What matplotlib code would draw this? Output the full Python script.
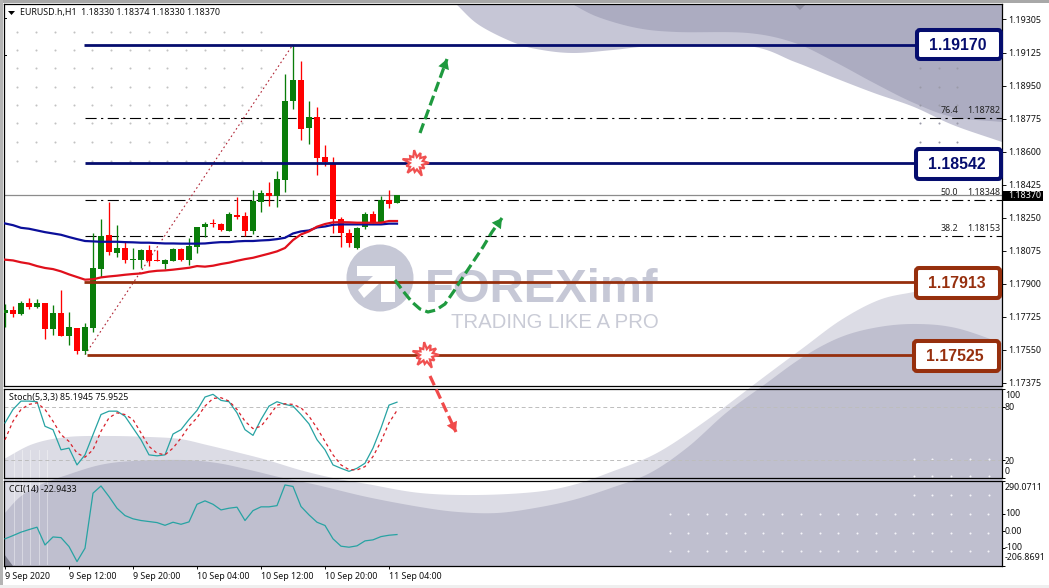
import matplotlib
matplotlib.use("Agg")
import matplotlib.pyplot as plt
from matplotlib.patches import FancyBboxPatch, Polygon, Circle, Rectangle
import numpy as np

# ---------- data ----------
opens = [1.17744,1.17762,1.17741,1.17797,1.17778,1.17797,1.17663,1.17744,1.17626,1.17667,
         1.17546,1.17667,1.17981,1.18158,1.18064,1.18091,1.18029,1.18027,1.18080,1.18027,
         1.18006,1.18023,1.18085,1.18027,1.18098,1.18204,1.18221,1.18218,1.18182,1.18265,
         1.18260,1.18181,1.18336,1.18382,1.18368,1.18453,1.18871,1.18981,1.18727,1.18783,
         1.18573,1.18539,1.18244,1.18168,1.18091,1.18200,1.18271,1.18228,1.18343,1.18330]
highs = [1.17794,1.17783,1.17808,1.17824,1.17819,1.17801,1.17787,1.17868,1.17751,1.17667,
         1.17691,1.18168,1.18243,1.18334,1.18211,1.18122,1.18089,1.18084,1.18106,1.18080,
         1.18031,1.18089,1.18091,1.18142,1.18204,1.18230,1.18243,1.18225,1.18283,1.18359,
         1.18283,1.18398,1.18398,1.18439,1.18499,1.19016,1.19170,1.19082,1.18870,1.18836,
         1.18636,1.18575,1.18257,1.18191,1.18204,1.18280,1.18287,1.18368,1.18398,1.18374]
lows = [1.17670,1.17723,1.17735,1.17766,1.17773,1.17607,1.17628,1.17624,1.17578,1.17529,
        1.17529,1.17645,1.17939,1.18055,1.18041,1.18013,1.17981,1.17985,1.17995,1.18020,
        1.17981,1.18020,1.18023,1.18001,1.18066,1.18151,1.18200,1.18182,1.18182,1.18246,
        1.18154,1.18165,1.18283,1.18313,1.18306,1.18389,1.18829,1.18663,1.18645,1.18476,
        1.18527,1.18172,1.18098,1.18098,1.18084,1.18190,1.18221,1.18221,1.18303,1.18330]
closes = [1.17762,1.17741,1.17797,1.17776,1.17797,1.17663,1.17744,1.17626,1.17670,1.17546,
          1.17670,1.17985,1.18154,1.18069,1.18091,1.18027,1.18032,1.18080,1.18023,1.18023,
          1.18027,1.18085,1.18027,1.18101,1.18200,1.18218,1.18218,1.18186,1.18271,1.18255,
          1.18181,1.18340,1.18380,1.18368,1.18456,1.18870,1.18981,1.18723,1.18783,1.18569,
          1.18546,1.18246,1.18168,1.18119,1.18197,1.18271,1.18225,1.18345,1.18326,1.18370]
ma_blue = [1.18221,1.18212,1.18198,1.18193,1.18184,1.18175,1.18168,1.18161,1.18149,1.18138,
           1.18128,1.18126,1.18124,1.18124,1.18124,1.18122,1.18121,1.18119,1.18119,1.18117,
           1.18115,1.18115,1.18114,1.18114,1.18114,1.18115,1.18119,1.18122,1.18122,1.18126,
           1.18128,1.18128,1.18131,1.18133,1.18138,1.18145,1.18168,1.18179,1.18184,1.18200,
           1.18205,1.18214,1.18216,1.18216,1.18216,1.18216,1.18216,1.18216,1.18220,1.18220]
ma_red = [1.18029,1.18025,1.18015,1.18008,1.17995,1.17985,1.17979,1.17967,1.17951,1.17937,
          1.17923,1.17925,1.17935,1.17940,1.17944,1.17949,1.17953,1.17956,1.17965,1.17970,
          1.17972,1.17976,1.17981,1.17986,1.17995,1.17992,1.17997,1.18006,1.18013,1.18023,
          1.18032,1.18039,1.18050,1.18061,1.18073,1.18091,1.18133,1.18163,1.18179,1.18204,
          1.18218,1.18227,1.18228,1.18227,1.18225,1.18225,1.18225,1.18225,1.18234,1.18234]
stoch_main = [61.9,77.0,86.4,86.4,85.7,58.1,54.3,31.7,33.6,14.7,26.0,48.7,71.3,75.1,75.1,69.4,56.2,43.0,26.0,24.9,
              26.0,49.4,54.3,65.7,75.9,91.0,94.0,87.2,85.7,73.2,54.3,47.9,65.7,80.8,85.7,82.7,80.8,71.3,60.8,43.0,
              31.7,14.7,10.9,7.5,10.9,16.6,33.6,56.2,81.9,85.19]
stoch_signal = [43.0,63.8,77.0,82.7,84.5,77.0,63.8,48.7,41.1,27.9,23.4,31.7,52.5,67.6,73.2,71.3,65.7,50.6,35.5,27.9,
                26.0,33.6,44.9,58.1,67.6,80.8,89.4,90.2,86.4,77.0,63.8,55.5,58.1,69.4,81.9,83.4,82.7,78.9,69.4,56.2,
                41.1,26.0,14.7,9.4,9.0,12.8,24.1,41.1,61.9,75.95]
cci = [-48,-29,-9,6,20,-84,-37,-41,-93,-181,-103,219,261,199,131,88,69,59,53,47,
       31,49,37,51,154,174,154,121,131,137,59,117,139,139,146,267,258,141,92,49,
       30,-48,-91,-97,-89,-60,-54,-35,-27,-22.94]
price_ticks = [1.19305,1.19125,1.18950,1.18775,1.18600,1.18425,1.18250,1.18075,1.17900,1.17725,1.17550,1.17375]
level_blue = [1.19170, 1.18542]
level_brown = [1.17913, 1.17525]
fib_levels = [1.18782, 1.18348, 1.18153]
fib_names = ["76.4", "50.0", "38.2"]
last_price = 1.18370
time_positions = [0, 8, 16, 24, 32, 40, 48]
time_labels = ["9 Sep 2020", "9 Sep 12:00", "9 Sep 20:00", "10 Sep 04:00", "10 Sep 12:00", "10 Sep 20:00", "11 Sep 04:00"]

# ---------- layout ----------
W, H = 1049, 588
FONT = "Noto Sans"
FS = 6.4
NAVY = "#050d6e"
BROWN = "#962f0d"
GREEN = "#0a7d0a"
RED = "#ff0000"
LIGHT_TOP, DARK_TOP = "#c6c6d6", "#acacc1"
LIGHT_LOW, DARK_LOW = "#dcdce5", "#bfbfcf"
WM = "#c6c8d6"
plt.rcParams["font.family"] = [FONT, "DejaVu Sans"]

fig = plt.figure(figsize=(W / 100, H / 100), dpi=100, facecolor="white")

def px_axes(l, t, r, b, z):
    a = fig.add_axes([l / W, 1 - b / H, (r - l) / W, (b - t) / H], zorder=z)
    return a

# background in pixel coordinates
bg = px_axes(0, 0, W, H, 0)
bg.set_xlim(0, W); bg.set_ylim(H, 0); bg.axis("off")
clip = Rectangle((4, 4), 998, 562, transform=bg.transData)

def smooth(pts, n=12):
    p = np.array(pts, float)
    p = np.vstack([2 * p[0] - p[1], p, 2 * p[-1] - p[-2]])
    out = []
    for i in range(1, len(p) - 2):
        for t in np.linspace(0, 1, n, endpoint=False):
            out.append(0.5 * (2 * p[i] + (p[i + 1] - p[i - 1]) * t
                              + (2 * p[i - 1] - 5 * p[i] + 4 * p[i + 1] - p[i + 2]) * t ** 2
                              + (3 * p[i] - p[i - 1] - 3 * p[i + 1] + p[i + 2]) * t ** 3))
    out.append(p[-2])
    return np.array(out)

def band(curve, corners, color, z):
    p = Polygon(np.vstack([smooth(curve), corners]), closed=True, fc=color, ec="none", zorder=z)
    bg.add_patch(p); p.set_clip_path(clip)

top_light = [(456,4),(479,25),(515,43),(542,50),(574,53),(613,50),(657,46),(748,46),(795,62),(835,78),
             (874,93),(914,107),(953,125),(1002,142)]
top_dark = [(572,4),(598,17),(637,28),(677,32),(748,33),(795,43),(835,62),(874,83),(914,103),(953,117),
            (1002,122)]
low_light = [(4,459),(33,444),(67,437),(110,436),(150,437),(180,439),(207,445),(240,453),(267,460),
             (300,470),(333,478),(367,484),(420,493),(477,495),(535,492),(573,485),(611,472),(657,453),(707,420),
             (764,377),(803,348),(841,320),(879,300),(914,292),(960,284),(1002,280)]
low_dark = [(4,514),(20,497),(40,485),(67,475),(100,465),(133,461),(183,460),(217,463),(250,470),(283,478),
            (317,485),(367,497),(420,507),(458,512),(497,513),(535,508),(573,500),(611,488),(650,473),(688,447),
            (726,413),(764,385),(803,357),(841,337),(879,327),(917,324),(956,328),(1002,343)]
band(top_light, [(1002, 4)], LIGHT_TOP, 1); band(top_dark, [(1002, 4)], DARK_TOP, 2)
band(low_light, [(1002, 566), (4, 566)], LIGHT_LOW, 1); band(low_dark, [(1002, 566), (4, 566)], DARK_LOW, 2)
bg.add_patch(Polygon([(794,4),(806,4),(800,10)], closed=True, fc="#8f8fa3", ec="none", zorder=3))
bg.add_patch(Polygon([(4,554),(13,566),(4,566)], closed=True, fc="#7d7d8c", ec="none", zorder=3))
for x in (14, 22, 30, 39, 47):
    bg.plot([x, x], [450, 564], color="white", lw=0.6, alpha=0.45, zorder=3)

# page edges
bg.add_patch(Rectangle((0, 0), W, 3, fc="#a8a8a8", ec="none", zorder=6))
bg.add_patch(Rectangle((0, 0), 3, H, fc="#b4b4b4", ec="none", zorder=6))
bg.add_patch(Rectangle((0, 585), W, 3, fc="#efefef", ec="none", zorder=6))

# dot grids
dx = 18.75
gx = 17.3 + dx * np.arange(14)
gy = np.array([32, 50, 68, 87, 105, 123, 142, 161])
X, Y = np.meshgrid(gx, gy)
bg.scatter(X.ravel(), Y.ravel(), s=2.2, color="#c2c2c2", linewidths=0, zorder=4)
X, Y = np.meshgrid([920, 938.7, 957.4], [68, 87, 105, 123, 142])
bg.scatter(X.ravel(), Y.ravel(), s=2.2, color="#9a9aa8", linewidths=0, zorder=4)
X, Y = np.meshgrid(669.5 + dx * np.arange(18), [514, 533, 551])
bg.scatter(X.ravel(), Y.ravel(), s=2.2, color="#f4f4f8", linewidths=0, zorder=4)
X, Y = np.meshgrid(913.5 + dx * np.arange(5), [459, 476, 495])
bg.scatter(X.ravel(), Y.ravel(), s=2.2, color="#f4f4f8", linewidths=0, zorder=4)

# watermark
bg.add_patch(Circle((380, 278), 33.5, fc=WM, ec="none", zorder=4))
bg.add_patch(Polygon([(357,266),(395,266),(395,302),(381,302),(381,282),(364,298),(358,290),(373,276),(357,276)],
                     closed=True, fc="white", ec="none", zorder=5))
bg.text(425, 285, "FOREXimf", family="Liberation Sans", weight="bold", fontsize=34, color=WM,
        ha="left", va="center_baseline", zorder=4)
bg.text(451, 320, "TRADING LIKE A PRO", family="Liberation Sans", fontsize=14.7, color="#c9cbd6",
        ha="left", va="center_baseline", zorder=4)

XLIM = (-1 / 8, 997 / 8)
idx = np.arange(len(closes))

# ---------- main panel ----------
ax = px_axes(4, 4, 1002, 386, 2)
ax.patch.set_visible(False)
ax.set_xlim(*XLIM)
ax.set_ylim(1.19125 - 333 / 18857, 1.19125 + 49 / 18857)

ax.axhline(last_price, color="#8c8c8c", lw=0.9, zorder=1)
for lv in fib_levels:
    ax.plot([10, XLIM[1]], [lv, lv], color="black", lw=0.8, dashes=(10, 4, 2, 4), zorder=2)
for lv, nm in zip(fib_levels, fib_names):
    ax.text((958 - 5) / 8, lv + 0.00015, nm, fontsize=FS, ha="right", va="bottom", color="#222222", zorder=2)
    ax.text((1000 - 5) / 8, lv + 0.00015, f"{lv:.5f}", fontsize=FS, ha="right", va="bottom", color="#222222", zorder=2)
ax.plot([10, 36], [level_brown[1], level_blue[0]], color="#b02535", lw=0.8, dashes=(1.5, 2.5), zorder=2)

o, h, l, c = map(np.array, (opens, highs, lows, closes))
col = [GREEN if ci >= oi else RED for oi, ci in zip(o, c)]
ax.vlines(idx, l, h, colors=col, lw=0.95, zorder=3)
ax.bar(idx, np.maximum(np.abs(c - o), 0.00004), bottom=np.minimum(o, c), width=0.66, color=col, linewidth=0, zorder=3)

ax.plot(idx, ma_blue, color="#0b0f9a", lw=1.6, zorder=4)
ax.plot(idx, ma_red, color="#e0101c", lw=1.6, zorder=4)

ax.plot([9.9, 122], [level_blue[0]] * 2, color=NAVY, lw=2.0, zorder=5, solid_capstyle="butt")
ax.plot([10.0, 122], [level_blue[1]] * 2, color=NAVY, lw=2.0, zorder=5, solid_capstyle="butt")
ax.plot([9.9, 122], [level_brown[0]] * 2, color=BROWN, lw=2.0, zorder=5, solid_capstyle="butt")
ax.plot([10.3, 122], [level_brown[1]] * 2, color=BROWN, lw=2.0, zorder=5, solid_capstyle="butt")

ax.set_xticks([])
ax.yaxis.tick_right()
ax.set_yticks(price_ticks)
ax.set_yticklabels([f"{p:.5f}" for p in price_ticks], fontsize=FS)
ax.tick_params(axis="y", length=3, width=0.7, pad=1.4, colors="#111111")

# ---------- stochastic ----------
a2 = px_axes(4, 389, 1002, 478, 2)
a2.patch.set_visible(False)
a2.set_xlim(*XLIM); a2.set_ylim(0, 100)
for v in (80, 20):
    a2.axhline(v, color="#bdbdbd", lw=0.7, dashes=(4, 3), zorder=1)
a2.plot(idx, stoch_main, color="#27a3a3", lw=0.9, zorder=3)
a2.plot(idx, stoch_signal, color="#d8202a", lw=0.9, dashes=(2.5, 2.5), zorder=3)
a2.set_xticks([])
a2.yaxis.tick_right()
a2.set_yticks([100, 80, 20, 0])
a2.set_yticklabels([])
a2.tick_params(axis="y", length=2.5, width=0.7)

# ---------- CCI ----------
a3 = px_axes(4, 481, 1002, 566, 2)
a3.patch.set_visible(False)
a3.set_xlim(*XLIM); a3.set_ylim(-206.8691, 290.0711)
a3.plot(idx, cci, color="#27a3a3", lw=0.9, zorder=3)
a3.yaxis.tick_right()
a3.set_yticks([290.0711, 100, 0, -100, -206.8691])
a3.set_yticklabels([])
a3.tick_params(axis="y", length=2.5, width=0.7)
a3.set_xticks(time_positions)
a3.set_xticklabels(time_labels, fontsize=FS, ha="left")
a3.tick_params(axis="x", length=2.5, width=0.7, pad=1.5, colors="#111111")

for a in (ax, a2, a3):
    for s in a.spines.values():
        s.set_linewidth(0.9); s.set_color("black")

# ---------- overlay ----------
ov = px_axes(0, 0, W, H, 5)
ov.set_xlim(0, W); ov.set_ylim(H, 0); ov.axis("off")

ov.text(20, 12.5, "EURUSD.h,H1  1.18330 1.18374 1.18330 1.18370", fontsize=FS, ha="left", va="center", color="#111111")
ov.add_patch(Polygon([(8, 11), (15, 11), (11.5, 15)], closed=True, fc="black", ec="none"))
ov.text(9, 397.5, "Stoch(5,3,3) 85.1945 75.9525", fontsize=FS, ha="left", va="center", color="#111111")
ov.text(9, 489.5, "CCI(14) -22.9433", fontsize=FS, ha="left", va="center", color="#111111")
for y in (18, 55):
    ov.plot([4, 6], [y, y], color="black", lw=0.7)

for t, y in (("100", 396), ("80", 408), ("20", 461), ("0", 472),
             ("290.0711", 487), ("100", 513), ("0.00", 531), ("-100", 547), ("-206.8691", 558)):
    ov.text(1005, y, t, fontsize=FS, ha="left", va="center", color="#111111")

ov.add_patch(Rectangle((1003, 191), 40, 10, fc="black", ec="none"))
ov.text(1008, 196, f"{last_price:.5f}", fontsize=FS, ha="left", va="center", color="white")

boxes = [(917, 30, 84, 29, f"{level_blue[0]:.5f}", NAVY, 958, 44.5),
         (916, 149, 85, 30, f"{level_blue[1]:.5f}", NAVY, 957, 163),
         (916, 268, 84, 30, f"{level_brown[0]:.5f}", BROWN, 957, 281.5),
         (914, 341, 85, 30, f"{level_brown[1]:.5f}", BROWN, 955, 355)]
for x, y, w, hh, t, col_, tx, ty in boxes:
    ov.add_patch(FancyBboxPatch((x, y), w, hh, boxstyle="round,pad=0,rounding_size=3",
                                fc="white", ec=col_, lw=2.9, zorder=6))
    ov.text(tx, ty, t, family="Liberation Sans", weight="bold", fontsize=11.4, color=col_,
            ha="center", va="center_baseline", zorder=7)

def arrow(pts, color, head=7.5):
    pts = np.array(pts, float)
    ov.plot(pts[:, 0], pts[:, 1], color=color, lw=2.3, dashes=(3.2, 1.4), zorder=8, solid_capstyle="butt")
    tip = pts[-1]
    d = tip - pts[-2]; d = d / np.hypot(*d)
    n = np.array([-d[1], d[0]])
    base = tip - d * head * 1.3
    ov.add_patch(Polygon([tip, base + n * head * 0.75, base - n * head * 0.75], closed=True, fc=color, ec="none", zorder=8))

arrow([(420, 133), (447, 59)], "#1f9a3f")
arrow([(395, 280), (403, 291), (412, 302), (420, 309), (428, 312), (436, 310), (445, 304), (454, 291),
       (463, 277), (473, 262), (483, 247), (492, 232), (502, 218)], "#1f9a3f")
arrow([(430, 376), (456, 432)], "#f04a4a")

def burst(cx, cy):
    rad = np.array([13, 6.5, 10, 6, 14, 6.5, 9, 6, 13, 7, 10, 6, 14, 6.5, 9, 6.5, 13, 6, 11, 6.5, 12, 7])
    ang = np.deg2rad(np.arange(len(rad)) * 360 / len(rad))
    pts = np.column_stack([cx + rad * np.cos(ang), cy + rad * np.sin(ang)])
    ov.add_patch(Polygon(pts, closed=True, fc="white", ec="#f05050", lw=1.6, zorder=9))

burst(416, 163)
burst(426, 355)

fig.savefig("out.png", dpi=100, facecolor="white")
